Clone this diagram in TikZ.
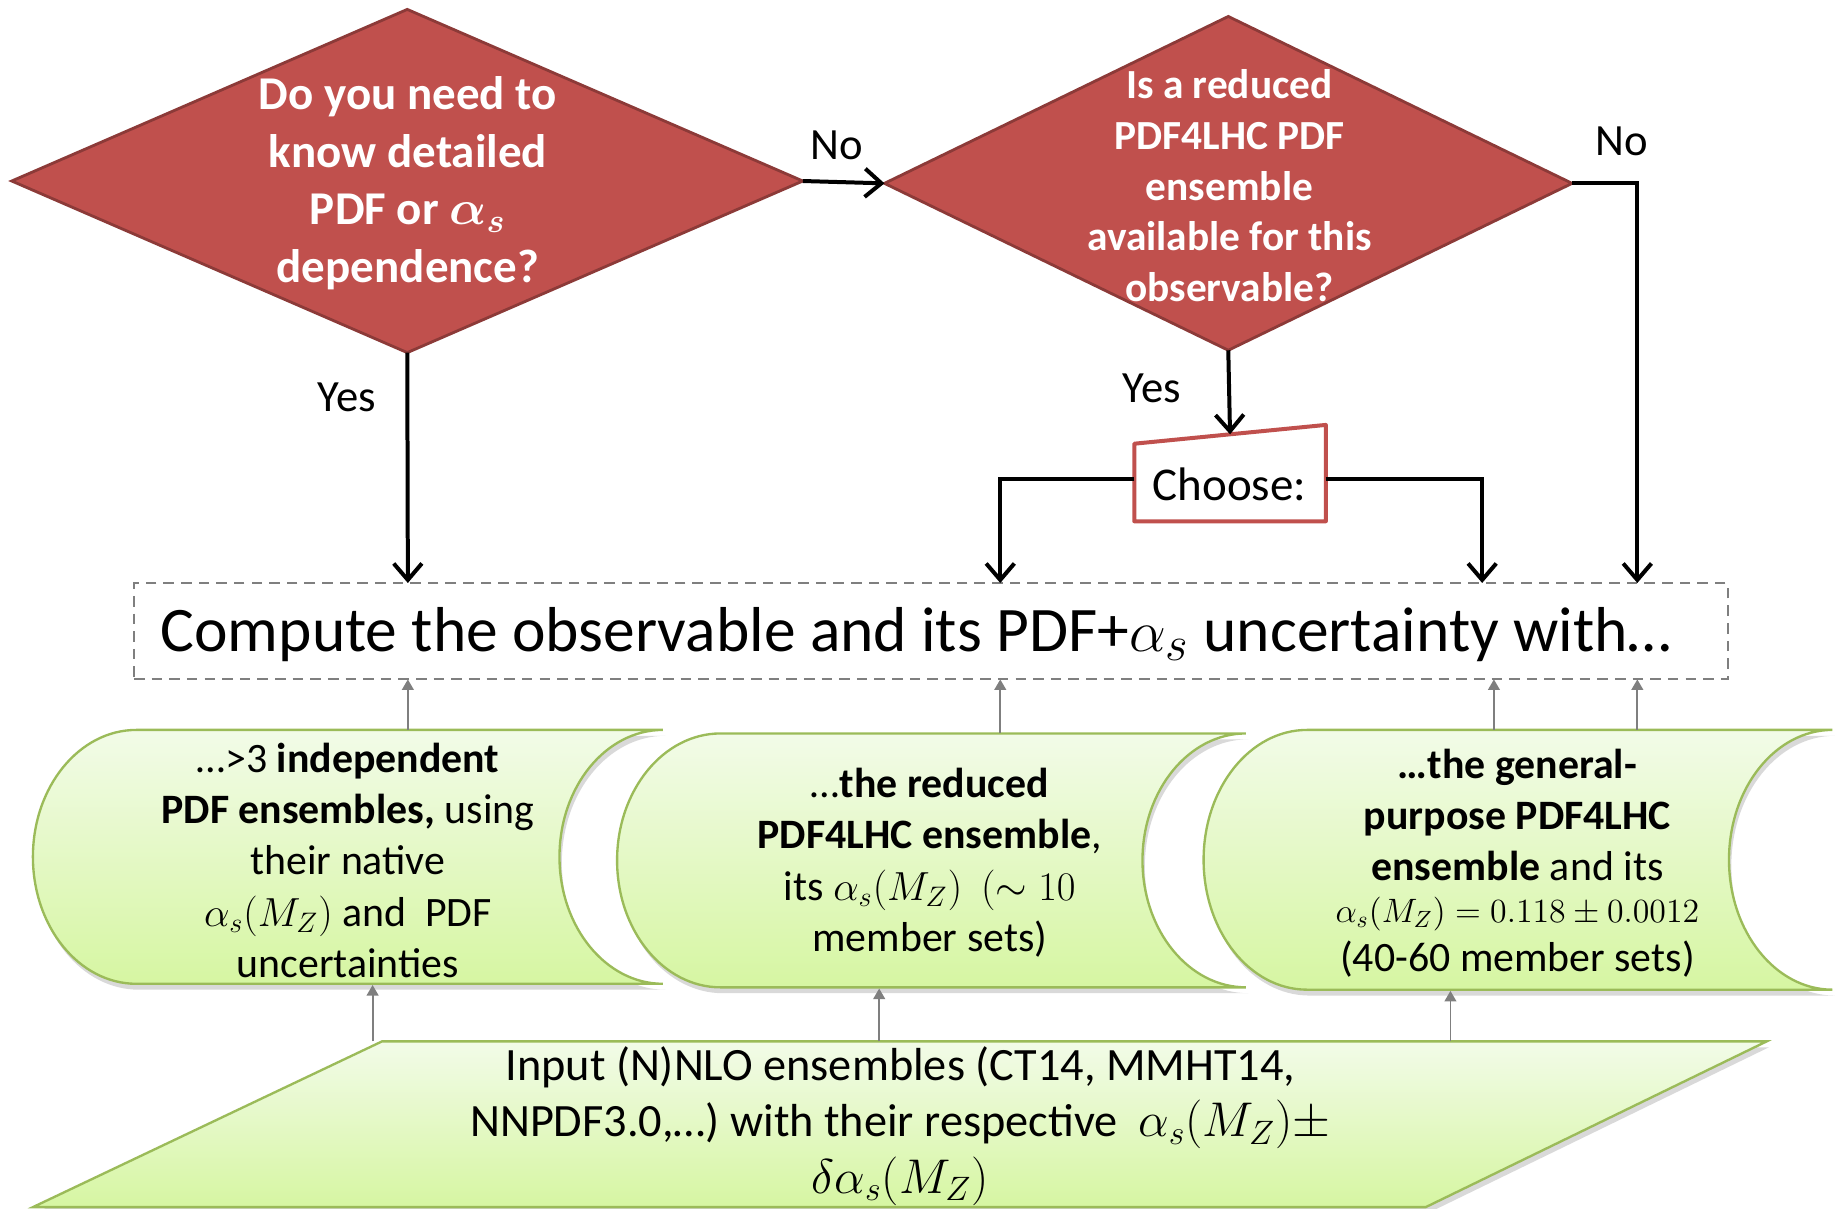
\documentclass[tikz,border=0pt]{standalone}
\usepackage{amsmath,bm}
\usepackage{fontspec}
\setmainfont{Carlito}
\usetikzlibrary{arrows.meta,shapes.geometric,calc}
\definecolor{redfill}{HTML}{C0504D}
\definecolor{redline}{HTML}{8C3A38}
\definecolor{gline}{HTML}{9BBB59}
\definecolor{gtop}{HTML}{F2FBE8}
\definecolor{gbot}{HTML}{D6F6A2}
\definecolor{garrow}{HTML}{7F7F7F}
\newcommand\szmath[2]{{\fontsize{#1}{#1}\selectfont$#2$}}
\begin{document}
\begin{tikzpicture}[x=0.5pt,y=-0.5pt,
  decision/.style={diamond, draw=redline, line width=1.2pt, fill=redfill, inner sep=0pt, outer sep=0pt},
  dtext/.style={text=white, align=center},
  blk/.style={line width=1.7pt, -{Straight Barb[length=7pt,width=12pt]}},
  garr/.style={draw=garrow, line width=0.8pt, -{Triangle[length=4.5pt,width=5pt]}},
  lbl/.style={font=\fontsize{19}{23}\selectfont},
  gbox/.style={draw=gline, line width=1pt, top color=gtop, bottom color=gbot,
    preaction={fill=black!15, transform canvas={xshift=1pt,yshift=-2.5pt}}},
  btext/.style={align=center, font=\fontsize{17.8}{21.75}\selectfont},
  redbox/.style={draw=redfill, line width=1.7pt, fill=white, line join=round}
]
\useasboundingbox (0,0) rectangle (1568,1028);

% decisions
\node[decision, minimum width=336.5pt, minimum height=146pt] (d1) at (346.5,154) {};
\node[dtext, font=\fontsize{20}{24.5}\selectfont\bfseries] (d1t) at (347,156)
  {Do you need to\\know detailed\\PDF or \szmath{21.5}{\bm{\alpha_s}}\\dependence?};
\node[decision, minimum width=292.5pt, minimum height=142pt] (d2) at (1045,156) {};
\node[dtext, font=\fontsize{17.6}{21.5}\selectfont\bfseries] (d2t) at (1046,158)
  {Is a reduced\\PDF4LHC PDF\\ensemble\\available for this\\observable?};

% choose box
\node[minimum width=81.5pt, minimum height=41pt, inner sep=0pt, outer sep=0pt] (choose) at (1046.5,402.5) {};
\draw[redbox] (choose.south west) -- (choose.south east) -- (choose.north east)
  -- ($(choose.north west)+(0,16)$) -- cycle;
\node[font=\fontsize{20}{24}\selectfont] (chtxt) at (1046,412) {Choose:};
\coordinate (chtop) at ($(choose.north)+(0,8)$);
\coordinate (chw) at ($(choose.west)+(0,5)$);
\coordinate (che) at ($(choose.east)+(0,5)$);

% compute box
\node[draw=garrow, line width=0.8pt, dash pattern=on 4.5pt off 3pt,
      minimum width=678pt, minimum height=41pt, inner sep=0pt, outer sep=0pt] (compute) at (792,537) {};
\node[font=\fontsize{27}{32}\selectfont] (comptxt) at (779.5,540)
  {Compute the observable and its PDF+\szmath{30}{\alpha_s} uncertainty with…};

\coordinate (t1) at (347,496);
\coordinate (t2) at (851,496);
\coordinate (t3) at (1261,496);
\coordinate (t4) at (1393,496);

% black connectors
\draw[blk] (d1.east) -- (d2.west);
\draw[blk] (d1.south) -- (t1);
\draw[blk] (d2.south) -- (chtop);
\draw[blk] (chw) -| (t2);
\draw[blk] (che) -| (t3);
\draw[blk] (d2.east) -| (t4);

\node[lbl] (no1) at (712,124) {No};
\node[lbl] (no2) at (1380,120) {No};
\node[lbl] (yes1) at (295,338) {Yes};
\node[lbl] (yes2) at (980,330) {Yes};

% green stored-data boxes
\path[gbox] (116,621) -- (564,621) .. controls (515.4,621) and (476,669.4) .. (476,729)
  .. controls (476,788.6) and (515.4,837) .. (564,837) -- (116,837)
  .. controls (67.4,837) and (28,788.6) .. (28,729) .. controls (28,669.4) and (67.4,621) .. (116,621) -- cycle;
\path[gbox] (613,624) -- (1060,624) .. controls (1011.4,624) and (972,672.4) .. (972,732)
  .. controls (972,791.6) and (1011.4,840) .. (1060,840) -- (613,840)
  .. controls (564.4,840) and (525,791.6) .. (525,732) .. controls (525,672.4) and (564.4,624) .. (613,624) -- cycle;
\path[gbox] (1112,621) -- (1559,621) .. controls (1510.4,621) and (1471,670.5) .. (1471,731.5)
  .. controls (1471,792.5) and (1510.4,842) .. (1559,842) -- (1112,842)
  .. controls (1063.4,842) and (1024,792.5) .. (1024,731.5) .. controls (1024,670.5) and (1063.4,621) .. (1112,621) -- cycle;

\node[btext] (b1) at (296,732)
  {…>3 \textbf{independent}\\\textbf{PDF ensembles,} using\\their native\\\szmath{18.5}{\alpha_s(M_Z)} and\ \ PDF\\uncertainties};
\node[btext] (b2) at (791,734)
  {…\textbf{the reduced}\\\textbf{PDF4LHC ensemble},\\its \szmath{18.5}{\alpha_s(M_Z)}\ \ \szmath{18.5}{(\sim 10}\\member sets)};
\node[btext] (b3) at (1291,734.5)
  {\textbf{…the general-}\\\textbf{purpose PDF4LHC}\\\textbf{ensemble} and its\\[-4pt]
   {\fontsize{14.5}{17}\selectfont $\alpha_s(M_Z)=0.118\pm0.0012$}\\[-1pt](40-60 member sets)};

% parallelogram
\path[gbox] (325,886) -- (1503,886) -- (1213,1027) -- (28,1027) -- cycle;
\node[align=center, font=\fontsize{19.7}{24}\selectfont] (inp) at (766,958)
  {Input (N)NLO ensembles (CT14, MMHT14,\\NNPDF3.0,…) with their respective\ \ \szmath{21.5}{\alpha_s(M_Z)\pm}\\\szmath{21.5}{\delta\alpha_s(M_Z)}};

% gray connectors
\coordinate (u1) at (347,621);
\coordinate (u2) at (851,624);
\coordinate (u3) at (1271,621);
\coordinate (u4) at (1393,621);
\draw[garr] (u1) -- (u1 |- compute.south);
\draw[garr] (u2) -- (u2 |- compute.south);
\draw[garr] (u3) -- (u3 |- compute.south);
\draw[garr] (u4) -- (u4 |- compute.south);
\coordinate (p1) at (317,886);
\coordinate (p2) at (748,886);
\coordinate (p3) at (1234,886);
\coordinate (q1) at (317,838);
\coordinate (q2) at (748,841);
\coordinate (q3) at (1234,843);
\draw[garr] (p1) -- (q1);
\draw[garr] (p2) -- (q2);
\draw[garr] (p3) -- (q3);
\end{tikzpicture}
\end{document}
